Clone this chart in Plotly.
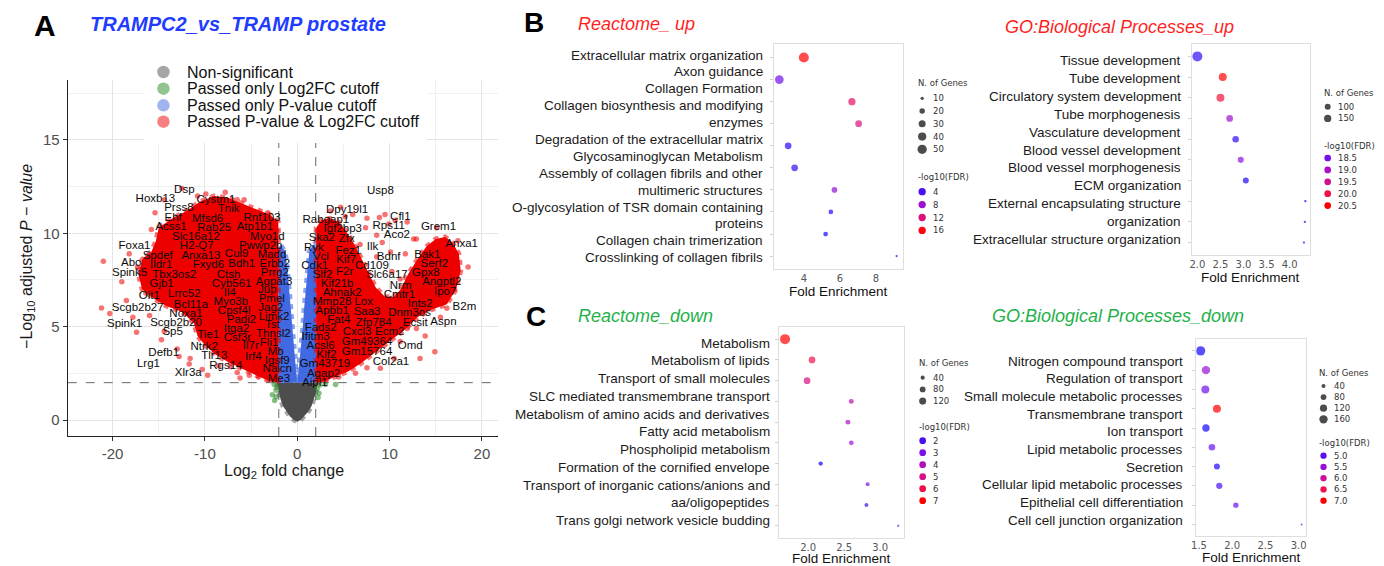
import math
import textwrap
import plotly.graph_objects as go

W, H = 1384, 566
SANS = "Liberation Sans, Arial, Helvetica, sans-serif"
DEJAVU = "DejaVu Sans, Verdana, sans-serif"
NARROW = "Liberation Sans Narrow, Arial Narrow, Liberation Sans, sans-serif"

# ============================ DATA ============================
# ---- Panel A: volcano plot (TRAMPC2 vs TRAMP prostate) ----
FC_CUTOFF = 2.0      # |log2 fold change| cutoff
P_CUTOFF = 2.0       # -log10 adjusted p-value cutoff
VOLCANO_XRANGE = [-24.85, 21.76]
VOLCANO_YRANGE = [-0.857, 18.21]

label_genes = [
    "Dsp", "Hoxb13", "Cystm1", "Prss8", "Tnik", "Ehf", "Mfsd6", "Rnf103", "Acss1", "Rab25",
    "Atp1b1", "Slc16a12", "Myo1d", "Foxa1", "H2-Q7", "Pwwp2b", "Spdef", "Anxa13", "Cul9", "Madd",
    "Abo", "Ildr1", "Fxyd6", "Bdh1", "Erbb2", "Spink5", "Tbx3os2", "Ctsh", "Prrg2", "Gjb1",
    "Cyb561", "Agpat3", "Oit1", "Lrrc52", "Il4", "Jup", "Scgb2b27", "Bcl11a", "Myo3b", "Pmel",
    "Noxa1", "Cpsf4l", "Jag2", "Spink1", "Scgb2b20", "Padi2", "Limk2", "Sp5", "Tie1", "Itga2",
    "Tst", "Csf3r", "Thnsl2", "Ntrk2", "Il7r", "Fli1", "Defb1", "Tlr13", "Irf4", "Mb",
    "Lrg1", "Rgs14", "Igsf9", "Xlr3a", "Nalcn", "Me3",
    "Usp8", "Dpy19l1", "Cfl1", "Rabgap1", "Igf2bp3", "Rps11", "Grem1", "Ska2", "Zfx", "Aco2",
    "Anxa1", "Ryk", "Fez1", "Ilk", "Vcl", "Kif7", "Bdnf", "Bak1", "Cdk1", "Cd109",
    "Serf2", "Slf2", "F2r", "Slc6a17", "Gpx8", "Kif21b", "Nrm", "Angptl2", "Ahnak2", "Cmtr1",
    "Ipo7", "Mmp28", "Lox", "Ints2", "B2m", "Apbb1", "Saa3", "Dnm3os", "Fat4", "Zfp784",
    "Ecsit", "Aspn", "Fads2", "Cxcl3", "Ecm2", "Ifitm3", "Gm49364", "Omd", "Acsl6", "Klf2",
    "Gm15764", "Gm43719", "Col2a1", "Agap2", "Aipl1",
]
label_fc = [
    -12.23, -15.36, -8.81, -12.82, -7.43, -13.44, -9.71, -3.81, -13.66, -8.99,
    -4.59, -10.97, -3.24, -17.63, -10.88, -3.95, -15.11, -10.43, -6.56, -2.73,
    -17.98, -14.74, -9.62, -6.02, -2.43, -18.16, -13.31, -7.43, -2.43, -14.69,
    -7.10, -2.51, -16.01, -12.23, -7.30, -3.24, -17.27, -11.51, -7.19, -2.76,
    -12.05, -6.83, -2.87, -18.70, -13.12, -6.04, -2.51, -13.49, -9.64, -6.58,
    -2.70, -6.48, -2.59, -10.07, -5.03, -3.05, -14.46, -8.99, -4.75, -2.33,
    -16.11, -7.73, -2.16, -11.80, -2.16, -1.98,
    9.00, 5.40, 11.16, 3.10, 4.93, 9.90, 15.29, 2.67, 5.36, 10.79,
    17.81, 1.80, 5.53, 8.15, 2.56, 5.31, 9.90, 14.09, 1.89, 8.09,
    14.84, 2.74, 5.13, 9.71, 13.92, 4.32, 11.19, 15.65, 4.86, 11.06,
    16.02, 3.78, 7.20, 13.32, 18.10, 3.78, 7.56, 12.16, 4.50, 8.28,
    12.78, 15.83, 2.53, 6.48, 10.01, 1.99, 7.56, 12.24, 2.53, 3.17,
    7.56, 2.99, 10.15, 2.85, 1.91,
]
label_p = [
    12.29, 11.83, 11.76, 11.33, 11.31, 10.83, 10.78, 10.83, 10.35, 10.25,
    10.31, 9.78, 9.82, 9.30, 9.30, 9.33, 8.79, 8.77, 8.88, 8.84,
    8.39, 8.29, 8.28, 8.37, 8.37, 7.84, 7.77, 7.78, 7.86, 7.26,
    7.28, 7.41, 6.66, 6.75, 6.82, 6.93, 5.98, 6.16, 6.30, 6.48,
    5.66, 5.85, 6.01, 5.14, 5.18, 5.36, 5.53, 4.68, 4.55, 4.86,
    5.09, 4.38, 4.59, 3.89, 3.96, 4.11, 3.60, 3.44, 3.36, 3.66,
    3.00, 2.91, 3.18, 2.50, 2.70, 2.21,
    12.25, 11.23, 10.87, 10.71, 10.24, 10.39, 10.31, 9.76, 9.71, 9.89,
    9.41, 9.21, 9.06, 9.27, 8.75, 8.58, 8.73, 8.84, 8.26, 8.26,
    8.35, 7.78, 7.90, 7.77, 7.89, 7.30, 7.18, 7.36, 6.81, 6.68,
    6.86, 6.30, 6.30, 6.21, 6.04, 5.84, 5.80, 5.72, 5.36, 5.21,
    5.18, 5.23, 4.94, 4.73, 4.68, 4.46, 4.16, 3.96, 3.93, 3.48,
    3.66, 3.00, 3.12, 2.48, 1.97,
]

# Outlines of the densely over-plotted point clouds (log2FC, -log10 padj)
ns_cloud_fc = [-2.2, -2.05, -1.8, -1.55, -1.2, -0.8, -0.4, 0.0, 0.4, 0.8, 1.2, 1.55, 1.8, 2.05, 2.2]
ns_cloud_p = [2.0, 1.5, 1.1, 0.75, 0.45, 0.2, 0.02, -0.1, 0.02, 0.2, 0.45, 0.75, 1.1, 1.5, 2.0]

pval_left_fc = [-2.05, -2.05, -1.85, -1.6, -1.3, -1.05, -0.9, -0.75, -0.6, -0.45, -0.25, -0.02]
pval_left_p = [2.0, 9.1, 9.4, 9.2, 9.0, 8.0, 7.0, 6.0, 5.0, 4.0, 3.0, 2.0]
pval_right_fc = [0.02, 0.25, 0.45, 0.6, 0.75, 0.9, 1.05, 1.3, 1.6, 1.85, 2.05, 2.05]
pval_right_p = [2.0, 3.0, 4.0, 5.0, 6.0, 7.0, 8.0, 9.0, 9.3, 9.4, 9.1, 2.0]

both_left_fc = [-2.05, -2.05, -3.0, -4.5, -6.0, -7.5, -9.0, -10.5, -12.0, -13.5, -15.0, -15.3,
                -15.8, -16.8, -17.2, -16.8, -15.5, -14.2, -12.5, -11.2, -10.8, -10.0, -8.8,
                -7.5, -6.2, -5.0, -3.8, -2.8]
both_left_p = [2.0, 10.6, 11.0, 11.3, 11.6, 11.9, 12.0, 11.7, 11.2, 10.8, 10.3, 9.6,
               9.0, 8.6, 7.8, 7.0, 6.5, 6.1, 5.8, 5.2, 4.5, 4.0, 3.5,
               3.1, 2.8, 2.5, 2.25, 2.05]
both_right_fc = [2.05, 2.05, 2.6, 3.5, 4.5, 5.3, 6.2, 7.0, 7.8, 8.5, 9.5, 10.5, 11.2, 12.0,
                 13.0, 14.0, 15.0, 16.0, 16.8, 17.5, 17.7, 17.2, 16.2, 14.5, 13.0, 11.8,
                 10.5, 9.2, 8.0, 6.8, 5.5, 4.0, 2.8]
both_right_p = [2.0, 10.3, 10.7, 10.8, 10.6, 10.1, 9.4, 8.6, 7.8, 7.1, 6.6, 6.6, 7.0, 7.8,
                8.6, 9.3, 9.7, 9.8, 9.5, 8.9, 8.0, 7.0, 6.2, 5.9, 5.5, 4.9,
                4.4, 3.9, 3.4, 3.0, 2.6, 2.3, 2.05]

# Isolated significant points outside the dense clouds
both_pts_fc = [
    -21.2, -20.3, -21.0, -17.4, -14.7, -14.4, -11.6, -11.7, -9.7, -6.5, -5.2, -7.2, -15.4, -14.7,
    -14.4, -10.8, -9.9, -5.75, -6.5, -16.4, -17.3, -16.2, -13.7, -4.3, -3.2, -8.3, -11.7, -16.0,
    -18.5, -19.0, -13.0, -8.5, -4.2, -3.1, -12.5, -7.8, -15.8, -18.2, -17.8, -12.8, -10.3, -6.2,
    7.55, 8.9, 9.5, 9.9, 7.4, 8.6, 9.2, 12.9, 17.4, 15.1, 6.8, 8.6, 10.1, 11.7, 10.25, 11.15,
    4.7, 10.6, 12.6, 15.5, 14.9, 13.85, 7.55, 9.0, 11.9, 12.9, 11.15, 16.2, 15.5, 15.65, 16.5,
    6.0, 5.2, 3.6, 18.5, 17.0, 13.3, 10.5, 6.3, 4.5, 3.2, 11.9,
]
both_pts_p = [
    6.0, 5.7, 8.5, 4.7, 4.3, 4.75, 3.3, 3.0, 2.4, 2.55, 2.4, 2.85, 11.1, 9.6,
    11.8, 12.0, 12.1, 11.8, 11.8, 6.8, 8.2, 8.8, 9.0, 11.0, 11.1, 11.5, 9.1, 5.6,
    6.4, 7.4, 3.8, 2.9, 2.3, 2.2, 12.4, 12.2, 10.2, 8.9, 5.5, 3.4, 2.7, 2.25,
    10.8, 10.85, 11.0, 10.5, 10.3, 9.9, 9.5, 9.7, 9.6, 10.3, 9.4, 8.75, 9.0, 8.9, 7.95, 7.55,
    11.4, 10.7, 9.7, 9.4, 3.66, 4.5, 2.8, 2.77, 4.9, 4.9, 4.2, 5.98, 5.5, 9.46, 9.2,
    11.0, 10.9, 11.2, 8.2, 7.0, 3.3, 3.3, 2.5, 2.3, 2.2, 10.6,
]
fc_only_fc = [-2.5, -2.3, -2.7, -2.3, -2.2, -2.45, 2.15, 2.35, 4.15, 3.06, 2.45, 2.25]
fc_only_p = [1.9, 1.6, 1.35, 1.25, 1.75, 1.05, 1.7, 1.43, 1.9, 1.9, 1.87, 1.2]

volcano_xticks = [-20, -10, 0, 10, 20]
volcano_xticktext = ["-20", "-10", "0", "10", "20"]
volcano_yticks = [0, 5, 10, 15]
legend_labels = ["Non-significant", "Passed only Log2FC cutoff",
                 "Passed only P-value cutoff", "Passed P-value &amp; Log2FC cutoff"]

# ---- Panels B / C: enrichment dot plots ----
reactome_up_terms = [
    "Extracellular matrix organization", "Axon guidance", "Collagen Formation",
    "Collagen biosynthesis and modifying enzymes", "Degradation of the extracellular matrix",
    "Glycosaminoglycan Metabolism", "Assembly of collagen fibrils and other multimeric structures",
    "O-glycosylation of TSR domain containing proteins", "Collagen chain trimerization",
    "Crosslinking of collagen fibrils",
]
reactome_up_fold = [4.0, 2.64, 6.67, 7.04, 3.13, 3.49, 5.70, 5.50, 5.21, 9.15]
reactome_up_genes = [58, 44, 32, 28, 28, 28, 21, 16, 16, 7]
reactome_up_fdr = [16.5, 6.1, 12.8, 11.9, 2.6, 3.3, 7.5, 2.6, 1.9, 1.5]

go_up_terms = [
    "Tissue development", "Tube development", "Circulatory system development",
    "Tube morphogenesis", "Vasculature development", "Blood vessel development",
    "Blood vessel morphogenesis", "ECM organization",
    "External encapsulating structure organization", "Extracellular structure organization",
]
go_up_fold = [2.00, 2.55, 2.50, 2.70, 2.83, 2.94, 3.05, 4.34, 4.33, 4.31]
go_up_genes = [288, 182, 178, 126, 120, 104, 100, 10, 9, 9]
go_up_fdr = [17.9, 20.5, 20.1, 18.9, 17.85, 18.7, 17.75, 17.65, 17.65, 17.6]

reactome_down_terms = [
    "Metabolism", "Metabolism of lipids", "Transport of small molecules",
    "SLC mediated transmembrane transport", "Metabolism of amino acids and derivatives",
    "Fatty acid metabolism", "Phospholipid metabolism", "Formation of the cornified envelope",
    "Transport of inorganic cations/anions and aa/oligopeptides",
    "Trans golgi network vesicle budding",
]
reactome_down_fold = [1.68, 2.055, 1.986, 2.60, 2.553, 2.60, 2.175, 2.826, 2.81, 3.25]
reactome_down_genes = [241, 107, 107, 58, 58, 51, 43, 37, 37, 10]
reactome_down_fdr = [7.0, 5.9, 5.1, 4.4, 3.9, 3.6, 0.95, 3.1, 1.8, 2.3]

go_down_terms = [
    "Nitrogen compound transport", "Regulation of transport", "Small molecule metabolic processes",
    "Transmembrane transport", "Ion transport", "Lipid metabolic processes", "Secretion",
    "Cellular lipid metabolic processes", "Epithelial cell differentiation",
    "Cell cell junction organization",
]
go_down_fold = [1.525, 1.605, 1.596, 1.77, 1.605, 1.695, 1.77, 1.806, 2.055, 3.045]
go_down_genes = [201, 160, 149, 149, 126, 104, 85, 94, 68, 12]
go_down_fdr = [4.47, 5.48, 5.19, 7.0, 4.47, 5.13, 4.54, 4.86, 5.13, 5.26]

reactome_up_xticks = [4, 6, 8]
go_up_xticks = [2.0, 2.5, 3.0, 3.5, 4.0]
reactome_down_xticks = [2.0, 2.5, 3.0]
go_down_xticks = [1.5, 2.0, 2.5, 3.0]

reactome_up_size_legend = [10, 20, 30, 40, 50]
go_up_size_legend = [100, 150]
reactome_down_size_legend = [40, 80, 120]
go_down_size_legend = [40, 80, 120, 160]
reactome_up_color_legend = [4, 8, 12, 16]
go_up_color_legend = [18.5, 19.0, 19.5, 20.0, 20.5]
reactome_down_color_legend = [2, 3, 4, 5, 6, 7]
go_down_color_legend = [5.0, 5.5, 6.0, 6.5, 7.0]

# ============================ STYLE / LAYOUT ============================
BR_SCALE = [[0.0, "#0000ff"], [0.2, "#4a10f2"], [0.35, "#7a10ea"], [0.5, "#ad10c6"],
            [0.65, "#cf1094"], [0.8, "#ec1056"], [0.9, "#f8102c"], [1.0, "#ff0000"]]

annotations = []
shapes = []


def add_text(text, px, py, size, color="#1a1a1a", family=SANS, xanchor="center",
             yanchor="middle", angle=0):
    annotations.append(dict(
        text=text, x=px / W, y=1 - py / H, xref="paper", yref="paper", showarrow=False,
        xanchor=xanchor, yanchor=yanchor, textangle=angle,
        font=dict(size=size, color=color, family=family)))


def xdom(px0, px1):
    return [px0 / W, px1 / W]


def ydom(py_top, py_bot):
    return [1 - py_bot / H, 1 - py_top / H]


fig = go.Figure()

# ---------------- Panel A: volcano ----------------
GREY30, FOREST, ROYAL, RED2 = "77,77,77", "34,139,34", "65,105,225", "238,0,0"


def cloud(xs, ys, rgb, edge_alpha):
    fig.add_trace(go.Scatter(
        x=xs, y=ys, mode="lines", fill="toself", fillcolor=f"rgb({rgb})",
        line=dict(width=5, color=f"rgba({rgb},{edge_alpha})", dash="dot"),
        hoverinfo="skip", xaxis="x", yaxis="y"))


cloud(ns_cloud_fc, ns_cloud_p, GREY30, 0.5)
cloud(pval_left_fc, pval_left_p, ROYAL, 0.6)
cloud(pval_right_fc, pval_right_p, ROYAL, 0.6)
cloud(both_left_fc, both_left_p, RED2, 0.55)
cloud(both_right_fc, both_right_p, RED2, 0.55)
fig.add_trace(go.Scatter(x=both_pts_fc, y=both_pts_p, mode="markers",
                         marker=dict(size=5.5, color=f"rgba({RED2},0.55)", line=dict(width=0)),
                         xaxis="x", yaxis="y"))
fig.add_trace(go.Scatter(x=fc_only_fc, y=fc_only_p, mode="markers",
                         marker=dict(size=5.5, color=f"rgba({FOREST},0.55)", line=dict(width=0)),
                         xaxis="x", yaxis="y"))
fig.add_trace(go.Scatter(x=label_fc, y=label_p, mode="text", text=label_genes,
                         textposition="middle center", cliponaxis=False,
                         textfont=dict(size=11.5, color="#0a0a0a", family=SANS),
                         xaxis="x", yaxis="y"))

for xv in (-FC_CUTOFF, FC_CUTOFF):
    shapes.append(dict(type="line", xref="x", yref="y", x0=xv, x1=xv,
                       y0=VOLCANO_YRANGE[0], y1=VOLCANO_YRANGE[1],
                       line=dict(color="#6a6a6a", width=1, dash="dash"), layer="between"))
shapes.append(dict(type="line", xref="x", yref="y", x0=VOLCANO_XRANGE[0], x1=VOLCANO_XRANGE[1],
                   y0=P_CUTOFF, y1=P_CUTOFF,
                   line=dict(color="#6a6a6a", width=1, dash="dash"), layer="between"))

grid_major = "#e4e4e4"
grid_minor = "#f1f1f1"
layout_axes = dict(
    xaxis=dict(domain=xdom(63, 495), range=VOLCANO_XRANGE, anchor="y",
               tickmode="array", tickvals=volcano_xticks, ticktext=volcano_xticktext,
               ticks="outside", ticklen=4, tickcolor="#333", showline=True, linecolor="#222",
               linewidth=1.3, showgrid=True, gridcolor=grid_major, gridwidth=1.2, zeroline=False,
               minor=dict(tickvals=[-15, -5, 5, 15], showgrid=True, gridcolor=grid_minor,
                          gridwidth=0.8, ticks=""),
               tickfont=dict(size=15, color="#4d4d4d", family=SANS), fixedrange=True),
    yaxis=dict(domain=ydom(80, 436), range=VOLCANO_YRANGE, anchor="x",
               tickmode="array", tickvals=volcano_yticks,
               ticks="outside", ticklen=4, tickcolor="#333", showline=True, linecolor="#222",
               linewidth=1.3, showgrid=True, gridcolor=grid_major, gridwidth=1.2, zeroline=False,
               minor=dict(tickvals=[2.5, 7.5, 12.5, 17.5], showgrid=True, gridcolor=grid_minor,
                          gridwidth=0.8, ticks=""),
               tickfont=dict(size=15, color="#4d4d4d", family=SANS), fixedrange=True),
    xaxis6=dict(domain=[0, 1], range=[0, W], anchor="y6", visible=False, fixedrange=True),
    yaxis6=dict(domain=[0, 1], range=[H, 0], anchor="x6", visible=False, fixedrange=True),
)

# volcano legend (white key box above the grid)
shapes.append(dict(type="rect", xref="x6", yref="y6", x0=140, x1=423, y0=60, y1=143,
                   fillcolor="white", line=dict(width=0), layer="below"))
legend_rows = [72, 88.7, 105.3, 121.7]
fig.add_trace(go.Scatter(
    x=[159] * 4, y=legend_rows, mode="markers", xaxis="x6", yaxis="y6",
    marker=dict(size=12.5, line=dict(width=0),
                color=[f"rgba({c},0.5)" for c in (GREY30, FOREST, ROYAL, RED2)])))
for lab, yy in zip(legend_labels, legend_rows):
    add_text(lab, 181, yy, 16, color="#111", xanchor="left")

add_text("<b>A</b>", 40, 26, 30, color="#000", family=NARROW)
add_text("<b><i>TRAMPC2_vs_TRAMP prostate</i></b>", 83, 24, 20, color="#1f3cff", xanchor="left")
add_text("−Log<sub>10</sub> adjusted <i>P</i> − <i>value</i>", 22, 256, 16, color="#1a1a1a",
         angle=-90)
add_text("Log<sub>2</sub> fold change", 280, 471, 16, color="#1a1a1a")

# ---------------- Panels B/C: dot plots ----------------
panels = [
    dict(k=2, terms=reactome_up_terms, fold=reactome_up_fold, genes=reactome_up_genes,
         fdr=reactome_up_fdr, cmin=1.0, cmax=16.5, area=(-8.0, 1.9), xticks=reactome_up_xticks,
         fmt="d", xrange=[2.34, 9.49], box=(771.7, 44.3, 901.0, 269.3),
         lab_right=762.7, lab_top=55.0, lab_step=16.9, xtitle_y=291,
         size_leg=reactome_up_size_legend, color_leg=reactome_up_color_legend, cfmt="{:d}",
         leg=dict(tx=914, dx=920.5, lx=929, t1=83.3, r1=98.3, s1=12.75, t2=176.7, r2=191.7,
                  s2=12.9, cd=7.3)),
    dict(k=3, terms=go_up_terms, fold=go_up_fold, genes=go_up_genes, fdr=go_up_fdr,
         cmin=17.5, cmax=20.5, area=(2.0, 0.34), xticks=go_up_xticks, fmt=".1f",
         xrange=[1.877, 4.447], box=(1191.0, 44.0, 1310.0, 255.0),
         lab_right=1182.3, lab_top=61.0, lab_step=17.8, xtitle_y=278,
         size_leg=go_up_size_legend, color_leg=go_up_color_legend, cfmt="{:.1f}",
         leg=dict(tx=1321.7, dx=1327.5, lx=1336, t1=92.5, r1=106.7, s1=11.7, t2=145.5, r2=158,
                  s2=11.9, cd=6.7)),
    dict(k=4, terms=reactome_down_terms, fold=reactome_down_fold, genes=reactome_down_genes,
         fdr=reactome_down_fdr, cmin=0.75, cmax=7.0, area=(1.0, 0.41),
         xticks=reactome_down_xticks, fmt=".1f", xrange=[1.595, 3.337],
         box=(776.7, 326.7, 902.7, 538.3),
         lab_right=770.0, lab_top=343.0, lab_step=17.77, xtitle_y=558,
         size_leg=reactome_down_size_legend, color_leg=reactome_down_color_legend, cfmt="{:d}",
         leg=dict(tx=915, dx=921, lx=929.5, t1=362.7, r1=377.7, s1=11.7, t2=427.3, r2=440.7,
                  s2=12.0, cd=6.7)),
    dict(k=5, terms=go_down_terms, fold=go_down_fold, genes=go_down_genes, fdr=go_down_fdr,
         cmin=4.33, cmax=7.0, area=(-1.5, 0.44), xticks=go_down_xticks, fmt=".1f",
         xrange=[1.461, 3.115], box=(1195.7, 339.3, 1306.0, 536.0),
         lab_right=1184.0, lab_top=361.0, lab_step=17.67, xtitle_y=557.5,
         size_leg=go_down_size_legend, color_leg=go_down_color_legend, cfmt="{:.1f}",
         leg=dict(tx=1316.7, dx=1323.3, lx=1331.7, t1=373.3, r1=386, s1=11.1, t2=443.3, r2=455.7,
                  s2=11.25, cd=6.3)),
]


def diameter(n, area):
    a, b = area
    return math.sqrt(max(a + b * n, 2.0))


for p in panels:
    k = p["k"]
    x0, y0, x1, y1 = p["box"]
    fig.add_trace(go.Scatter(
        x=p["fold"], y=p["terms"], mode="markers", xaxis=f"x{k}", yaxis=f"y{k}",
        marker=dict(size=[diameter(n, p["area"]) for n in p["genes"]], color=p["fdr"],
                    colorscale=BR_SCALE, cmin=p["cmin"], cmax=p["cmax"], showscale=False,
                    line=dict(width=0))))
    layout_axes[f"xaxis{k}"] = dict(
        domain=xdom(x0, x1), range=p["xrange"], anchor=f"y{k}", tickmode="array",
        tickvals=p["xticks"], tickformat=p["fmt"], ticks="", showline=True, mirror=True,
        linecolor="#dedede", linewidth=1, showgrid=False, zeroline=False, fixedrange=True,
        tickfont=dict(size=10, color="#555", family=DEJAVU))
    layout_axes[f"yaxis{k}"] = dict(
        domain=ydom(y0, y1), type="category", categoryorder="array", categoryarray=p["terms"],
        range=[9.6, -0.6], anchor=f"x{k}", showticklabels=False, ticks="outside", ticklen=3,
        tickcolor="#d0d0d0", showline=True, mirror=True, linecolor="#dedede", linewidth=1,
        showgrid=False, zeroline=False, fixedrange=True)
    # wrapped term labels, right aligned, evenly spread
    lines = []
    for t in p["terms"]:
        lines.extend(textwrap.wrap(t, width=41, break_on_hyphens=False))
    for i, ln in enumerate(lines):
        add_text(ln, p["lab_right"], p["lab_top"] + i * p["lab_step"], 13.5, color="#1a1a1a",
                 xanchor="right")
    add_text("Fold Enrichment", (x0 + x1) / 2, p["xtitle_y"], 13.5, color="#111")
    # legend (size + colour keys)
    L = p["leg"]
    add_text("N. of Genes", L["tx"], L["t1"], 8.5, color="#333", family=DEJAVU, xanchor="left")
    srows = [L["r1"] + i * L["s1"] for i in range(len(p["size_leg"]))]
    fig.add_trace(go.Scatter(
        x=[L["dx"]] * len(srows), y=srows, mode="markers", xaxis="x6", yaxis="y6",
        marker=dict(size=[diameter(n, p["area"]) for n in p["size_leg"]], color="#000",
                    line=dict(width=0))))
    for v, yy in zip(p["size_leg"], srows):
        add_text(str(v), L["lx"], yy, 8.5, color="#333", family=DEJAVU, xanchor="left")
    add_text("-log10(FDR)", L["tx"], L["t2"], 8.5, color="#333", family=DEJAVU, xanchor="left")
    crows = [L["r2"] + i * L["s2"] for i in range(len(p["color_leg"]))]
    fig.add_trace(go.Scatter(
        x=[L["dx"]] * len(crows), y=crows, mode="markers", xaxis="x6", yaxis="y6",
        marker=dict(size=L["cd"], color=p["color_leg"], colorscale=BR_SCALE, cmin=p["cmin"],
                    cmax=p["cmax"], showscale=False, line=dict(width=0))))
    for v, yy in zip(p["color_leg"], crows):
        add_text(p["cfmt"].format(v), L["lx"], yy, 8.5, color="#333", family=DEJAVU,
                 xanchor="left")

# panel letters and titles
add_text("<b>B</b>", 530.5, 23, 28, color="#000", family=NARROW)
add_text("<b>C</b>", 533, 316, 28, color="#000", family=NARROW)
RED_T, GREEN_T = "#ff1f1f", "#1fb14a"
add_text("<i>Reactome_ up</i>", 573, 24, 18, color=RED_T, xanchor="left")
add_text("<i>GO:Biological Processes_up</i>", 1001.5, 26.5, 18, color=RED_T, xanchor="left")
add_text("<i>Reactome_down</i>", 573, 315.5, 18, color=GREEN_T, xanchor="left")
add_text("<i>GO:Biological Processes_down</i>", 988.3, 316, 18, color=GREEN_T, xanchor="left")

fig.update_layout(
    width=W, height=H, margin=dict(l=0, r=0, t=0, b=0), autosize=False,
    paper_bgcolor="white", plot_bgcolor="rgba(0,0,0,0)", showlegend=False,
    annotations=annotations, shapes=shapes, hovermode=False,
    font=dict(family=SANS), **layout_axes)

fig.write_html("out.html", config=dict(displayModeBar=False),
               post_script="document.body.style.margin='0';document.body.style.overflow='hidden';")
